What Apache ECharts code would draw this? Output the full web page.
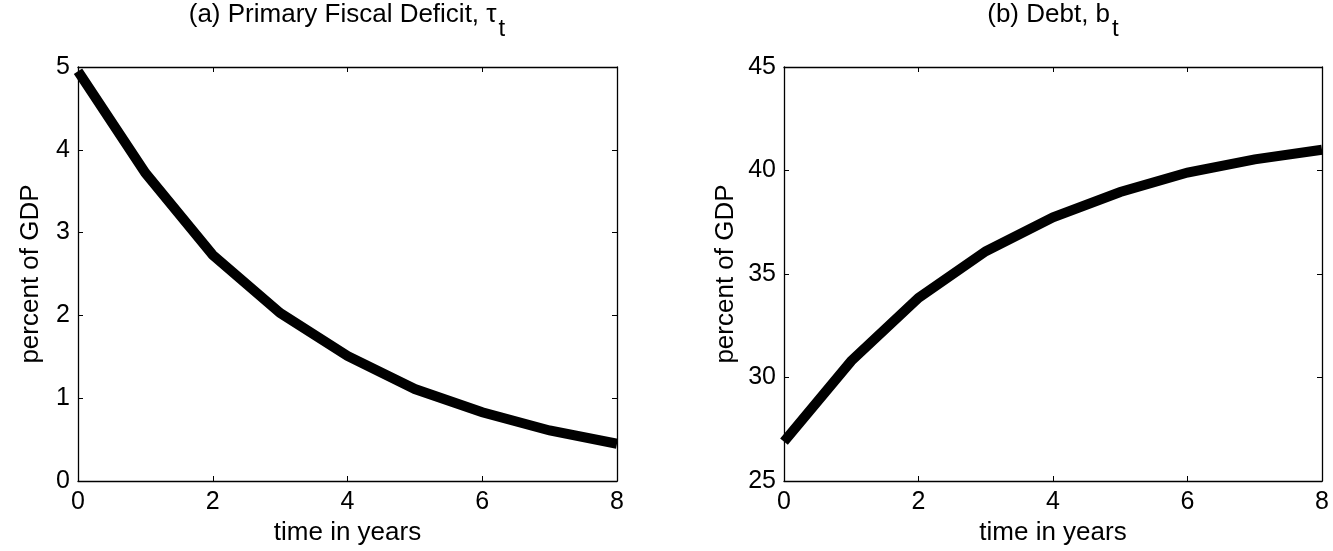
<!DOCTYPE html>
<html>
<head>
<meta charset="utf-8">
<script src="https://cdn.jsdelivr.net/npm/echarts@6/dist/echarts.min.js"></script>
<style>
html,body{margin:0;padding:0;background:#fff;}
#c{width:1333px;height:551px;}
</style>
</head>
<body>
<div id="c"></div>
<script>
const years = [0, 1, 2, 3, 4, 5, 6, 7, 8];
const deficit = [4.95, 3.72, 2.73, 2.03, 1.51, 1.11, 0.83, 0.61, 0.45];
const debt = [26.9, 30.8, 33.85, 36.1, 37.74, 38.96, 39.9, 40.54, 41.0];
const xTicks = [0, 2, 4, 6, 8];
const leftTicks = [0, 1, 2, 3, 4, 5];
const rightTicks = [25, 30, 35, 40, 45];

const FONT = 'Liberation Sans, Arial, Helvetica, sans-serif';
const chart = echarts.init(document.getElementById('c'), null, {renderer: 'canvas'});

const grids = [
  {left: 78, top: 67, width: 539, height: 414},
  {left: 784, top: 67, width: 538, height: 414}
];

function xAxes(gi) {
  const base = {
    type: 'value', gridIndex: gi, min: xTicks[0], max: xTicks[xTicks.length - 1], interval: 2,
    axisLine: {show: true, onZero: false, lineStyle: {color: '#000', width: 1.3}},
    axisTick: {show: true, inside: true, length: 5, lineStyle: {color: '#000', width: 1}},
    splitLine: {show: false}
  };
  return [
    Object.assign({}, base, {
      position: 'bottom',
      axisLabel: {show: true, color: '#000', fontSize: 25, fontFamily: FONT, margin: 9},
      name: 'time in years', nameLocation: 'middle', nameGap: 38,
      nameTextStyle: {color: '#000', fontSize: 26, fontFamily: FONT}
    }),
    Object.assign({}, base, {position: 'top', axisLabel: {show: false}})
  ];
}
function yAxes(gi, ticks) {
  const base = {
    type: 'value', gridIndex: gi, min: ticks[0], max: ticks[ticks.length - 1], interval: ticks[1] - ticks[0],
    axisLine: {show: true, onZero: false, lineStyle: {color: '#000', width: 1.3}},
    axisTick: {show: true, inside: true, length: 5, lineStyle: {color: '#000', width: 1}},
    splitLine: {show: false}
  };
  return [
    Object.assign({}, base, {
      position: 'left',
      axisLabel: {show: true, color: '#000', fontSize: 25, fontFamily: FONT, margin: 8},
      name: 'percent of GDP', nameLocation: 'middle', nameGap: gi === 0 ? 34 : 45,
      nameTextStyle: {color: '#000', fontSize: 26, fontFamily: FONT}
    }),
    Object.assign({}, base, {position: 'right', axisLabel: {show: false}})
  ];
}

const titleRich = {
  a: {fontSize: 26, fontFamily: FONT, fontWeight: 'normal', color: '#000', verticalAlign: 'top', lineHeight: 28},
  s: {fontSize: 24, fontFamily: FONT, fontWeight: 'normal', color: '#000', verticalAlign: 'top', padding: [15, 0, 0, 2], lineHeight: 26}
};

chart.setOption({
  animation: false,
  backgroundColor: '#fff',
  title: [
    {text: '{a|(a) Primary Fiscal Deficit, τ}{s|t}', left: 347, top: 2, padding: 0, textAlign: 'center',
     textStyle: {rich: titleRich, fontWeight: 'normal'}},
    {text: '{a|(b) Debt, b}{s|t}', left: 1053, top: 2, padding: 0, textAlign: 'center',
     textStyle: {rich: titleRich, fontWeight: 'normal'}}
  ],
  grid: grids,
  xAxis: [...xAxes(0), ...xAxes(1)],
  yAxis: [...yAxes(0, leftTicks), ...yAxes(1, rightTicks)],
  series: [
    {type: 'line', xAxisIndex: 0, yAxisIndex: 0, data: years.map((t, i) => [t, deficit[i]]),
     symbol: 'none', clip: true, lineStyle: {color: '#000', width: 10, cap: 'butt', join: 'miter'}},
    {type: 'line', xAxisIndex: 2, yAxisIndex: 2, data: years.map((t, i) => [t, debt[i]]),
     symbol: 'none', clip: true, lineStyle: {color: '#000', width: 10, cap: 'butt', join: 'miter'}}
  ]
});
</script>
</body>
</html>
